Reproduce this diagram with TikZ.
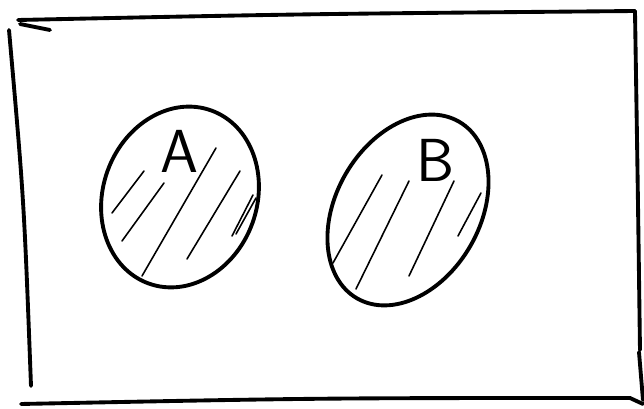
\documentclass[tikz,border=0pt]{standalone}
\usepackage{tikz}
\usetikzlibrary{positioning}

\begin{document}
\begin{tikzpicture}[
        x=0.01cm, y=-0.01cm, line cap=round, line join=round,
        pen/.style={line width=1.1pt},
        hatch/.style={line width=0.45pt},
        lbl/.style={font=\sffamily\LARGE, inner sep=0pt}]
        \useasboundingbox (0,0) rectangle (644,409);
        % frame, drawn as loose strokes
        \draw[pen] (18,20) .. controls (300,14) .. (635,11);
        \draw[pen] (20,24) -- (50,30);
        \draw[pen] (9,30) .. controls (24,200) .. (31,386);
        \draw[pen] (21,404) .. controls (320,398) .. (630,398) -- (643,404);
        \draw[pen] (635,11) .. controls (638,200) .. (640,350);
        \draw[pen] (639,352) -- (643,400);
        % sets
        \coordinate (cA) at (180,197);
        \coordinate (cB) at (408,210);
        \draw[pen, rotate around={-20:(cA)}] (cA) ellipse [x radius=77, y radius=92];
        \draw[pen, rotate around={-30:(cB)}] (cB) ellipse [x radius=72, y radius=102];
        \node[lbl] (A) at (179,151) {A};
        \node[lbl] (B) at (436,160) {B};
        % hatching
        \foreach \p/\q in {{144,171}/{112,213}, {164,183}/{122,241}, {216,148}/{142,276},
                           {240,171}/{187,259}, {253,195}/{232,236}, {256,198}/{236,234}}
          \draw[hatch] (\p) -- (\q);
        \foreach \p/\q in {{382,175}/{333,263}, {409,181}/{356,289}, {454,181}/{409,276},
                           {481,193}/{458,236}}
          \draw[hatch] (\p) -- (\q);
      \end{tikzpicture}
\end{document}
